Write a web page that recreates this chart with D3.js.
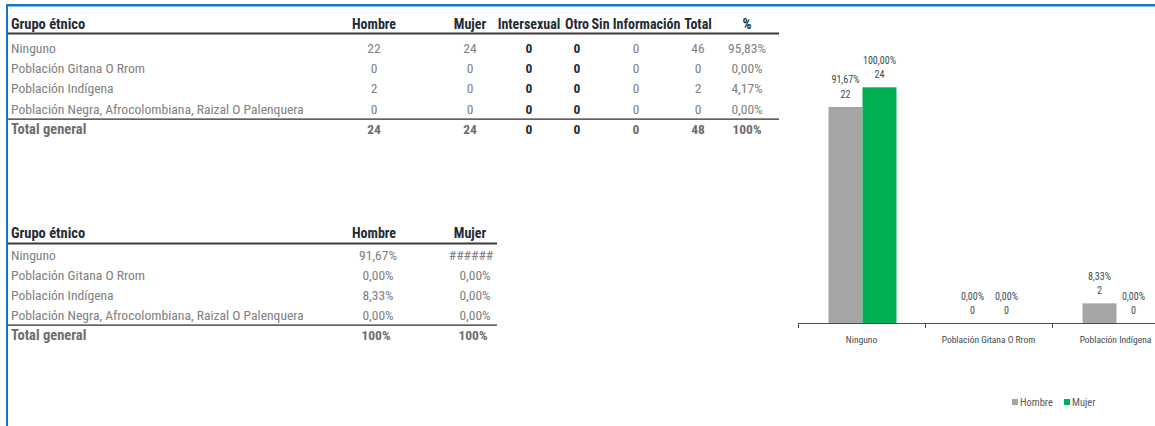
<!DOCTYPE html>
<html>
<head>
<meta charset="utf-8">
<script src="https://cdn.jsdelivr.net/npm/d3@7"></script>
<style>
  body { margin: 0; background: #fff; }
  .tbl, .chart { font-family: "Roboto Condensed", "Liberation Sans Narrow", "Arial Narrow", sans-serif; }
</style>
</head>
<body>
<script>
// data
var grupos = ["Ninguno", "Población Gitana O Rrom", "Población Indígena", "Población Negra, Afrocolombiana, Raizal O Palenquera"];
var hombre = [22, 0, 2, 0];
var mujer = [24, 0, 0, 0];
var intersexual = [0, 0, 0, 0];
var otro = [0, 0, 0, 0];
var sinInfo = [0, 0, 0, 0];
var total = [46, 0, 2, 0];
var pctTotal = ["95,83%", "0,00%", "4,17%", "0,00%"];
var pctHombre = ["91,67%", "0,00%", "8,33%", "0,00%"];
var pctMujer = ["100,00%", "0,00%", "0,00%", "0,00%"];
var totales = ["24", "24", "0", "0", "0", "48", "100%"];
var series = ["Hombre", "Mujer"];

var W = 1155, H = 426;
var gray = "#808080", dark = "#1f2b35", totGray = "#6e6e6e";

var svg = d3.select("body").append("svg")
  .attr("width", W)
  .attr("height", H);

// blue frame (top + left)
svg.append("rect").attr("x", 6).attr("y", 4).attr("width", W - 6).attr("height", 2.5).attr("fill", "#1474c8");
svg.append("rect").attr("x", 6).attr("y", 4).attr("width", 2).attr("height", H).attr("fill", "#1474c8");

svg.append("clipPath").attr("id", "firstCol")
  .append("rect").attr("x", 0).attr("y", 0).attr("width", 303).attr("height", H);

// ---------- table 1 ----------
var t1 = svg.append("g").attr("class", "tbl");
var cols1 = [
  {name: "Hombre", x: 374, vals: hombre, color: gray, bold: false},
  {name: "Mujer", x: 470, vals: mujer, color: gray, bold: false},
  {name: "Intersexual", x: 529, vals: intersexual, color: dark, bold: true},
  {name: "Otro", x: 577, vals: otro, color: dark, bold: true},
  {name: "Sin Información", x: 636, vals: sinInfo, color: gray, bold: false},
  {name: "Total", x: 698, vals: total, color: gray, bold: false},
  {name: "%", x: 747, vals: pctTotal, color: gray, bold: false}
];
var rowY1 = [48, 68.3, 88.6, 108.8];

t1.append("text").attr("x", 11).attr("y", 24).attr("dy", "0.35em")
  .style("font-size", "14.5px").style("font-weight", "bold").attr("fill", dark)
  .text("Grupo étnico");
t1.selectAll(".h1").data(cols1).enter().append("text")
  .attr("x", function(d) { return d.x; }).attr("y", 24).attr("dy", "0.35em")
  .attr("text-anchor", "middle")
  .style("font-size", "14px").style("font-weight", "bold").attr("fill", dark)
  .text(function(d) { return d.name; });

t1.append("rect").attr("x", 8).attr("y", 32.5).attr("width", 771).attr("height", 2).attr("fill", "#3a3a3a");
t1.append("rect").attr("x", 8).attr("y", 118.5).attr("width", 771).attr("height", 1.2).attr("fill", "#222");

t1.selectAll(".r1").data(grupos).enter().append("text")
  .attr("clip-path", "url(#firstCol)")
  .attr("x", 11).attr("y", function(d, i) { return rowY1[i]; }).attr("dy", "0.35em")
  .style("font-size", "13.6px").attr("fill", gray)
  .text(function(d) { return d; });

cols1.forEach(function(c) {
  t1.selectAll(null).data(c.vals).enter().append("text")
    .attr("x", c.x).attr("y", function(d, i) { return rowY1[i]; }).attr("dy", "0.35em")
    .attr("text-anchor", "middle")
    .style("font-size", "13.5px").style("font-weight", c.bold ? "bold" : "normal")
    .attr("fill", c.color)
    .text(function(d) { return d; });
});

t1.append("text").attr("x", 11).attr("y", 129).attr("dy", "0.35em")
  .style("font-size", "14.5px").style("font-weight", "bold").attr("fill", totGray)
  .text("Total general");
t1.selectAll(".tt1").data(totales).enter().append("text")
  .attr("x", function(d, i) { return cols1[i].x; }).attr("y", 129).attr("dy", "0.35em")
  .attr("text-anchor", "middle")
  .style("font-size", "13.5px").style("font-weight", "bold")
  .attr("fill", function(d, i) { return cols1[i].bold ? dark : totGray; })
  .text(function(d) { return d; });

// ---------- table 2 ----------
var t2 = svg.append("g").attr("class", "tbl");
var rowY2 = [255, 275.2, 295.4, 315.6];
var cols2 = [
  {name: "Hombre", hx: 374, x: 378, vals: pctHombre},
  {name: "Mujer", hx: 470, x: 475, vals: pctMujer}
];

t2.append("text").attr("x", 11).attr("y", 233).attr("dy", "0.35em")
  .style("font-size", "14.5px").style("font-weight", "bold").attr("fill", dark)
  .text("Grupo étnico");
t2.selectAll(".h2").data(cols2).enter().append("text")
  .attr("x", function(d) { return d.hx; }).attr("y", 233).attr("dy", "0.35em")
  .attr("text-anchor", "middle")
  .style("font-size", "14px").style("font-weight", "bold").attr("fill", dark)
  .text(function(d) { return d.name; });

t2.append("rect").attr("x", 8).attr("y", 242.5).attr("width", 489).attr("height", 2).attr("fill", "#3a3a3a");
t2.append("rect").attr("x", 8).attr("y", 324.5).attr("width", 489).attr("height", 1.2).attr("fill", "#222");

t2.selectAll(".r2").data(grupos).enter().append("text")
  .attr("clip-path", "url(#firstCol)")
  .attr("x", 11).attr("y", function(d, i) { return rowY2[i]; }).attr("dy", "0.35em")
  .style("font-size", "13.6px").attr("fill", gray)
  .text(function(d) { return d; });

cols2.forEach(function(c) {
  t2.selectAll(null).data(c.vals).enter().append("text")
    .attr("x", c.x).attr("y", function(d, i) { return rowY2[i]; }).attr("dy", "0.35em")
    .attr("text-anchor", "middle")
    .style("font-size", "13.5px")
    .attr("fill", gray)
    .text(function(d) { return d; })
    .each(function() {
      // narrow column: excel shows hashes when the number does not fit
      if (this.getComputedTextLength() > 40) d3.select(this).text("######").attr("x", c.x - 4);
    });
  t2.append("text").attr("x", c.x - 2).attr("y", 335).attr("dy", "0.35em")
    .attr("text-anchor", "middle")
    .style("font-size", "13.5px").style("font-weight", "bold").attr("fill", totGray)
    .text("100%");
});

t2.append("text").attr("x", 11).attr("y", 335).attr("dy", "0.35em")
  .style("font-size", "14.5px").style("font-weight", "bold").attr("fill", totGray)
  .text("Total general");

// ---------- bar chart ----------
var chart = svg.append("g").attr("class", "chart");
var base = 323;
var x0 = d3.scaleBand().domain(grupos).range([798, 798 + 127 * grupos.length]);
var x1 = d3.scaleBand().domain(series).range([30.5, 30.5 + 68]);
var y = d3.scaleLinear().domain([0, 24]).range([base, 87.3]);
var color = d3.scaleOrdinal().domain(series).range(["#a5a5a5", "#00b050"]);
var pcts = {Hombre: pctHombre, Mujer: pctMujer};
var vals = {Hombre: hombre, Mujer: mujer};

// the last category lies past the right edge of the sheet view
var visibles = grupos.filter(function(d) { return x0(d) < W; });

var groups = chart.selectAll(".grp").data(visibles).enter().append("g")
  .attr("transform", function(d) { return "translate(" + x0(d) + ",0)"; });

var cells = groups.selectAll("g").data(function(d) {
  var i = grupos.indexOf(d);
  return series.map(function(s) { return {s: s, v: vals[s][i], p: pcts[s][i]}; });
}).enter().append("g");

cells.append("rect")
  .attr("x", function(d) { return x1(d.s); })
  .attr("y", function(d) { return y(d.v); })
  .attr("width", x1.bandwidth())
  .attr("height", function(d) { return base - y(d.v); })
  .attr("fill", function(d) { return color(d.s); });

cells.append("text")
  .attr("x", function(d) { return x1(d.s) + x1.bandwidth() / 2; })
  .attr("y", function(d) { return y(d.v) - 27; })
  .attr("dy", "0.35em").attr("text-anchor", "middle")
  .style("font-size", "10px").attr("fill", "#3b4b55")
  .text(function(d) { return d.p; });
cells.append("text")
  .attr("x", function(d) { return x1(d.s) + x1.bandwidth() / 2; })
  .attr("y", function(d) { return y(d.v) - 12.5; })
  .attr("dy", "0.35em").attr("text-anchor", "middle")
  .style("font-size", "10px").attr("fill", "#3b4b55")
  .text(function(d) { return d.v; });

// axis: labels centred, ticks at category boundaries
var xAxis = d3.axisBottom(x0).tickValues(visibles).tickSize(0).tickPadding(13).tickSizeOuter(0);
var ax = chart.append("g")
  .attr("transform", "translate(0," + base + ")")
  .call(xAxis);
ax.select(".domain").attr("stroke", "#3e5058");
ax.selectAll("text").style("font-size", "9.5px")
  .style("font-family", "'Roboto Condensed', 'Liberation Sans Narrow', sans-serif").attr("fill", "#3b4b55");
ax.selectAll(".bound").data(visibles).enter().append("line")
  .attr("x1", function(d) { return x0(d) + 0.5; })
  .attr("x2", function(d) { return x0(d) + 0.5; })
  .attr("y1", 0).attr("y2", 5)
  .attr("stroke", "#3e5058");

// legend
var legend = chart.selectAll(".leg").data(series).enter().append("g")
  .attr("transform", function(d, i) { return "translate(" + (1012 + i * 52) + ",399)"; });
legend.append("rect").attr("width", 6).attr("height", 6)
  .attr("fill", function(d) { return color(d); });
legend.append("text").attr("x", 8).attr("y", 3).attr("dy", "0.35em")
  .style("font-size", "10.5px").attr("fill", "#595959")
  .text(function(d) { return d; });
</script>
</body>
</html>
